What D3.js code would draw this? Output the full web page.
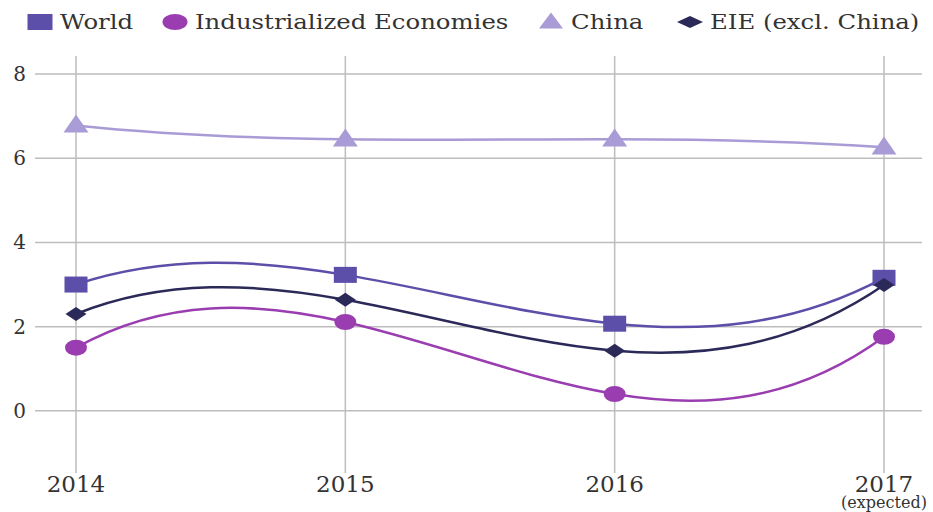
<!DOCTYPE html>
<html>
<head>
<meta charset="utf-8">
<script src="https://cdn.jsdelivr.net/npm/d3@7"></script>
<style>
  body { margin: 0; background: #fff; }
  text { font-family: "DejaVu Serif", serif; fill: #333; }
</style>
</head>
<body>
<div id="chart"></div>
<script>
var years = ["2014", "2015", "2016", "2017"]
var yTicks = [0, 2, 4, 6, 8]
var world = [3.0, 3.23, 2.07, 3.16]
var industrialized = [1.5, 2.11, 0.4, 1.76]
var china = [6.78, 6.45, 6.45, 6.26]
var eie = [2.3, 2.64, 1.43, 2.99]

var series = [
    { name: "World", values: world, color: "#5b4fa9", symbol: "square" },
    { name: "Industrialized Economies", values: industrialized, color: "#9a3db0", symbol: "circle" },
    { name: "China", values: china, color: "#a99bd6", symbol: "triangle" },
    { name: "EIE (excl. China)", values: eie, color: "#2b2958", symbol: "diamond" }
]

// not-a-knot style curve: tangents from the interpolating polynomial
function CurveSmooth(context) { this._context = context }
CurveSmooth.prototype = {
    areaStart: function () {}, areaEnd: function () {},
    lineStart: function () { this._x = []; this._y = [] },
    point: function (x, y) { this._x.push(+x); this._y.push(+y) },
    lineEnd: function () {
        var xs = this._x, ys = this._y, n = xs.length, c = this._context
        var m = xs.map(function (xi, i) {
            var s = 0
            for (var j = 0; j < n; j++) {
                var num = 1, den = 1
                if (j === i) {
                    var t = 0
                    for (var k = 0; k < n; k++) if (k !== i) t += 1 / (xi - xs[k])
                    s += ys[j] * t
                    continue
                }
                for (var k = 0; k < n; k++) {
                    if (k !== j) den *= xs[j] - xs[k]
                    if (k !== j && k !== i) num *= xi - xs[k]
                }
                s += ys[j] * num / den
            }
            return s
        })
        c.moveTo(xs[0], ys[0])
        for (var i = 0; i < n - 1; i++) {
            var h = (xs[i + 1] - xs[i]) / 3
            c.bezierCurveTo(xs[i] + h, ys[i] + m[i] * h, xs[i + 1] - h, ys[i + 1] - m[i + 1] * h, xs[i + 1], ys[i + 1])
        }
    }
}
function curveSmooth(context) { return new CurveSmooth(context) }

var width = 933, height = 512
var svg = d3.select("#chart").append("svg")
    .attr("width", width)
    .attr("height", height)

var x = d3.scalePoint()
    .domain(years)
    .range([76, 884])

var y = d3.scaleLinear()
    .domain([-1.5, 8.5])
    .range([474, 53])

// grid
svg.append("g").selectAll("line")
    .data(yTicks)
    .enter().append("line")
    .attr("x1", 35).attr("x2", 922)
    .attr("y1", function (d) { return y(d) })
    .attr("y2", function (d) { return y(d) })
    .attr("stroke", "#bdbdbd")
    .attr("stroke-width", 1.5)

svg.append("g").selectAll("line")
    .data(years)
    .enter().append("line")
    .attr("x1", function (d) { return x(d) })
    .attr("x2", function (d) { return x(d) })
    .attr("y1", 56).attr("y2", 473)
    .attr("stroke", "#bdbdbd")
    .attr("stroke-width", 1.5)

// y labels
svg.append("g").selectAll("text")
    .data(yTicks)
    .enter().append("text")
    .attr("x", 26)
    .attr("y", function (d) { return y(d) })
    .attr("dy", "0.35em")
    .attr("text-anchor", "end")
    .style("font-size", "20px")
    .text(function (d) { return d })

// x labels
svg.append("g").selectAll("text")
    .data(years)
    .enter().append("text")
    .attr("x", function (d) { return x(d) })
    .attr("y", 492)
    .attr("text-anchor", "middle")
    .style("font-size", "23px")
    .text(function (d) { return d })

svg.append("text")
    .attr("x", x("2017"))
    .attr("y", 508)
    .attr("text-anchor", "middle")
    .style("font-size", "16px")
    .text("(expected)")

function marker(sel, type, color, w, h) {
    var p
    if (type === "circle") {
        p = sel.append("ellipse").attr("rx", w / 2).attr("ry", h / 2)
    } else if (type === "square") {
        p = sel.append("rect").attr("x", -w / 2).attr("y", -h / 2).attr("width", w).attr("height", h)
    } else if (type === "triangle") {
        p = sel.append("path").attr("d", "M0," + (-h * 0.6) + "L" + (w / 2) + "," + (h * 0.4) + "L" + (-w / 2) + "," + (h * 0.4) + "Z")
    } else {
        p = sel.append("path").attr("d", "M0," + (-h / 2) + "L" + (w / 2) + ",0L0," + (h / 2) + "L" + (-w / 2) + ",0Z")
    }
    p.attr("fill", color)
}

var sizes = { square: [23, 16], circle: [22, 16], triangle: [25, 18], diamond: [21, 14] }

var line = d3.line()
    .x(function (d, i) { return x(years[i]) })
    .y(function (d) { return y(d) })
    .curve(curveSmooth)

series.forEach(function (s) {
    svg.append("path")
        .datum(s.values)
        .attr("d", line)
        .attr("fill", "none")
        .attr("stroke", s.color)
        .attr("stroke-width", 2.5)

    s.values.forEach(function (v, i) {
        var g = svg.append("g")
            .attr("transform", "translate(" + x(years[i]) + "," + y(v) + ")")
        marker(g, s.symbol, s.color, sizes[s.symbol][0], sizes[s.symbol][1])
    })
})

// legend
var legendX = [40, 175, 551, 690]
var legendSizes = { square: [25, 16], circle: [25, 16], triangle: [24, 16], diamond: [26, 12] }
series.forEach(function (s, i) {
    var g = svg.append("g")
        .attr("transform", "translate(" + legendX[i] + ",22)")
    marker(g, s.symbol, s.color, legendSizes[s.symbol][0], legendSizes[s.symbol][1])
    g.append("text")
        .attr("transform", "translate(20,0) scale(1.25,1)")
        .attr("dy", "0.35em")
        .style("font-size", "19.5px")
        .text(s.name)
})
</script>
</body>
</html>
